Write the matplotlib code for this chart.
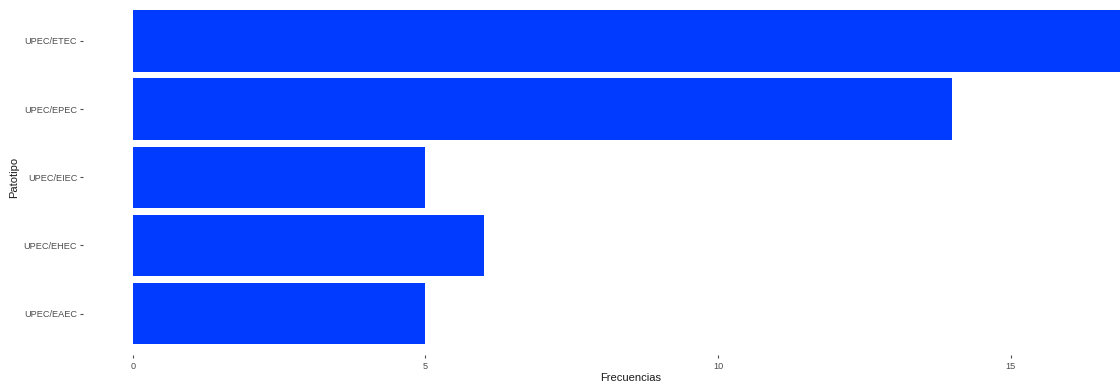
import matplotlib
matplotlib.use("Agg")
import matplotlib.pyplot as plt

# --- Data ---
categories = ["UPEC/EAEC", "UPEC/EHEC", "UPEC/EIEC", "UPEC/EPEC", "UPEC/ETEC"]
frequencies = [5, 6, 5, 14, 17]
x_ticks = [0, 5, 10, 15]

BAR_COLOR = "#003BFF"
TEXT_GRAY = "#4d4d4d"

plt.rcParams["font.family"] = ["Liberation Sans", "DejaVu Sans"]

fig = plt.figure(figsize=(11.2, 3.86), dpi=100)
# panel is wider than the picture on the right (cropped like the original)
ax = fig.add_axes([83 / 1120, 31.5 / 386, 1 - 83 / 1120, 1 - 31.5 / 386])

ypos = list(range(len(categories)))
ax.barh(ypos, frequencies, height=0.9, color=BAR_COLOR, zorder=2)

ax.set_ylim(-0.6, len(categories) - 0.4)
ax.set_xlim(-0.85, (1120 - 133) / 58.53)

ax.set_yticks(ypos)
ax.set_yticklabels(categories)
ax.set_xticks(x_ticks)
ax.set_xticklabels([str(t) for t in x_ticks])

for s in ax.spines.values():
    s.set_visible(False)
ax.tick_params(axis="both", colors=TEXT_GRAY, labelsize=6.6, length=2.2, width=0.8, pad=2)
ax.tick_params(axis="x", pad=3.5)

ax.set_xlabel("Frecuencias", fontsize=8, color="#1a1a1a")
ax.xaxis.set_label_coords((630.5 - 83) / (1120 - 83), -0.052)
ax.set_ylabel("Patotipo", fontsize=8, color="#1a1a1a")
ax.yaxis.set_label_coords(-0.062, 0.5)

fig.savefig("out.png", dpi=100)
